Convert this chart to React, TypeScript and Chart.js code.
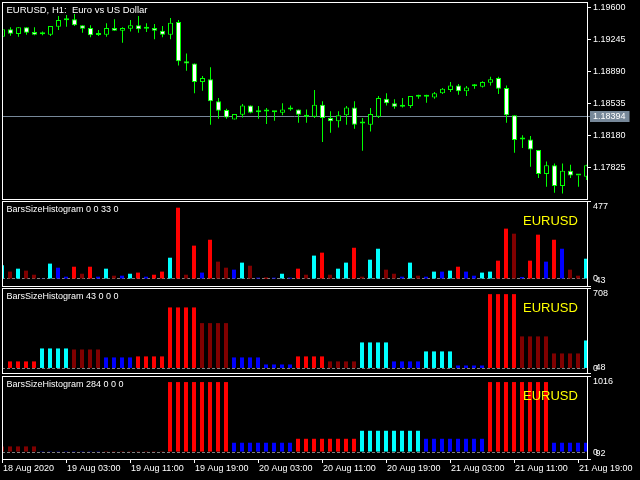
import React, { useEffect, useRef } from "react";
import { Chart, registerables } from "chart.js";

Chart.register(...registerables);

const FONT = '"Liberation Sans", Arial, sans-serif';

const MAIN_TITLE = "EURUSD, H1:  Euro vs US Dollar";
const SYMBOL = "EURUSD";
const HIST_TITLES = ["BarsSizeHistogram 0 0 33 0", "BarsSizeHistogram 43 0 0 0", "BarsSizeHistogram 284 0 0 0"];

const TIME_TICK_BARS = [0, 8, 16, 24, 32, 40, 48, 56, 64, 72];
const TIME_TICK_LABELS = [
  "18 Aug 2020", "19 Aug 03:00", "19 Aug 11:00", "19 Aug 19:00", "20 Aug 03:00",
  "20 Aug 11:00", "20 Aug 19:00", "21 Aug 03:00", "21 Aug 11:00", "21 Aug 19:00",
];

const PRICE_TICKS = [1.17825, 1.1818, 1.18535, 1.1889, 1.19245, 1.196];
const CURRENT_PRICE = 1.18394;
const PRICE_RANGE = [1.17479, 1.19664];
const BAR_RANGE = [0, 73.125];
const CANDLE_RANGE = [-0.0625, 73.0625];

const OPEN = [
  1.19279, 1.19361, 1.19309, 1.19383, 1.19331, 1.19307, 1.19301, 1.1939, 1.19462, 1.19472,
  1.19405, 1.19375, 1.19299, 1.19301, 1.19375, 1.19346, 1.19368, 1.19405, 1.19366, 1.19375,
  1.19346, 1.19301, 1.19442, 1.19006, 1.18983, 1.18776, 1.18806, 1.18562, 1.18466, 1.18362,
  1.18414, 1.18517, 1.18442, 1.18451, 1.18442, 1.18436, 1.18471, 1.18473, 1.18414, 1.18392,
  1.18525, 1.18377, 1.1834, 1.18407, 1.18495, 1.18318, 1.18303, 1.18392, 1.18591, 1.1854,
  1.18503, 1.1851, 1.18614, 1.18612, 1.18606, 1.18651, 1.18688, 1.18739, 1.18673, 1.1873,
  1.18725, 1.18769, 1.18821, 1.1871, 1.18407, 1.18138, 1.1814, 1.18022, 1.17756, 1.17852,
  1.17623, 1.17793, 1.17741, 1.17726,
];
const HIGH = [
  1.19361, 1.19383, 1.19383, 1.19383, 1.19383, 1.19338, 1.19398, 1.19509, 1.1952, 1.19531,
  1.19405, 1.19405, 1.19353, 1.19427, 1.19472, 1.19383, 1.19464, 1.19509, 1.19427, 1.1942,
  1.19398, 1.19486, 1.19464, 1.19094, 1.18983, 1.18843, 1.18939, 1.18599, 1.18481, 1.18421,
  1.18532, 1.18517, 1.1851, 1.18488, 1.18451, 1.1854, 1.18517, 1.18473, 1.18473, 1.18688,
  1.18562, 1.18451, 1.18451, 1.1851, 1.18562, 1.18377, 1.18488, 1.18621, 1.18651, 1.18584,
  1.18599, 1.18621, 1.18636, 1.18636, 1.18665, 1.1871, 1.18776, 1.18754, 1.18732, 1.18754,
  1.18784, 1.18836, 1.18836, 1.18739, 1.18407, 1.18185, 1.18177, 1.18022, 1.17896, 1.17874,
  1.17874, 1.17859, 1.17741, 1.17859,
];
const LOW = [
  1.19279, 1.1929, 1.19279, 1.19301, 1.19294, 1.19294, 1.19287, 1.19353, 1.1939, 1.19398,
  1.19324, 1.19272, 1.19287, 1.19279, 1.19346, 1.19213, 1.19338, 1.19324, 1.19331, 1.1925,
  1.19272, 1.1925, 1.18961, 1.18902, 1.18651, 1.1868, 1.18303, 1.1837, 1.1837, 1.18362,
  1.18384, 1.18429, 1.1837, 1.1831, 1.18347, 1.18407, 1.18458, 1.18325, 1.18325, 1.18377,
  1.18111, 1.18214, 1.18273, 1.18303, 1.18259, 1.18015, 1.18229, 1.18377, 1.18517, 1.18481,
  1.18495, 1.18488, 1.18591, 1.18547, 1.18591, 1.18643, 1.18665, 1.18636, 1.18621, 1.18702,
  1.18717, 1.18739, 1.18643, 1.18325, 1.17992, 1.18044, 1.17837, 1.17711, 1.17615, 1.17549,
  1.17541, 1.17711, 1.17615, 1.17689,
];
const CLOSE = [
  1.19361, 1.19313, 1.19383, 1.19324, 1.19301, 1.19309, 1.19398, 1.19464, 1.19464, 1.19405,
  1.19368, 1.19294, 1.19301, 1.19375, 1.19346, 1.19375, 1.19405, 1.19361, 1.19368, 1.19346,
  1.19301, 1.19435, 1.19006, 1.18983, 1.18776, 1.18821, 1.18562, 1.18458, 1.18384, 1.18421,
  1.18517, 1.18436, 1.18444, 1.18449, 1.18444, 1.18473, 1.18473, 1.18414, 1.18392, 1.18525,
  1.18377, 1.1834, 1.18407, 1.18495, 1.18303, 1.18316, 1.18421, 1.18599, 1.1854, 1.18503,
  1.18517, 1.18621, 1.18612, 1.18614, 1.18651, 1.18702, 1.18739, 1.18673, 1.18717, 1.18732,
  1.18776, 1.18806, 1.18702, 1.18407, 1.18133, 1.1814, 1.18029, 1.17756, 1.17852, 1.17623,
  1.17793, 1.17741, 1.17739, 1.17852,
];

const HIST1_VALUES = [
  84, 45, 63, 51, 26, 2, 94, 69, 14, 75,
  32, 75, 14, 63, 20, 20, 32, 39, 14, 26,
  45, 130, 436, 26, 204, 39, 240, 106, 69, 57,
  100, 81, 8, 8, 8, 32, 8, 63, 26, 143,
  161, 26, 63, 100, 191, 14, 118, 185, 57, 32,
  14, 100, 20, 14, 45, 45, 51, 75, 45, 20,
  39, 45, 112, 308, 277, 12, 112, 271, 106, 240,
  185, 57, 20, 124,
];
const HIST1_KINDS = [
  "C", "D", "C", "D", "D", "B", "C", "B", "B", "R",
  "D", "R", "B", "C", "D", "B", "C", "R", "B", "R",
  "R", "C", "R", "D", "R", "B", "R", "D", "D", "B",
  "C", "D", "B", "R", "B", "C", "B", "R", "D", "C",
  "R", "D", "C", "C", "R", "D", "C", "C", "D", "D",
  "B", "C", "D", "B", "C", "B", "C", "R", "B", "B",
  "C", "C", "R", "R", "D", "B", "R", "R", "B", "R",
  "B", "D", "D", "C",
];

const HIST2_VALUES = [
  0, 62, 62, 62, 62, 176, 176, 176, 176, 167,
  167, 167, 167, 97, 97, 97, 97, 106, 106, 106,
  106, 537, 537, 537, 537, 399, 399, 399, 399, 97,
  97, 97, 97, 35, 35, 35, 35, 106, 106, 106,
  106, 62, 62, 62, 62, 229, 229, 229, 229, 62,
  62, 62, 62, 150, 150, 150, 150, 26, 26, 26,
  26, 654, 654, 654, 654, 282, 282, 282, 282, 132,
  132, 132, 132, 246,
];
const HIST2_KINDS = [
  "B", "R", "R", "R", "R", "C", "C", "C", "C", "D",
  "D", "D", "D", "B", "B", "B", "B", "R", "R", "R",
  "R", "R", "R", "R", "R", "D", "D", "D", "D", "B",
  "B", "B", "B", "B", "B", "B", "B", "R", "R", "R",
  "R", "D", "D", "D", "D", "C", "C", "C", "C", "B",
  "B", "B", "B", "C", "C", "C", "C", "B", "B", "B",
  "B", "R", "R", "R", "R", "D", "D", "D", "D", "D",
  "D", "D", "D", "C",
];

const HIST3_VALUES = [
  76, 76, 76, 76, 76, 10, 10, 10, 10, 10,
  10, 10, 10, 12, 12, 12, 12, 12, 12, 12,
  12, 935, 935, 935, 935, 935, 935, 935, 935, 125,
  125, 125, 125, 125, 125, 125, 125, 178, 178, 178,
  178, 178, 178, 178, 178, 285, 285, 285, 285, 285,
  285, 285, 285, 178, 178, 178, 178, 178, 178, 178,
  178, 935, 935, 935, 935, 935, 935, 935, 935, 125,
  125, 125, 125, 125,
];
const HIST3_KINDS = [
  "D", "D", "D", "D", "D", "B", "B", "B", "B", "B",
  "B", "B", "B", "D", "D", "D", "D", "D", "D", "D",
  "D", "R", "R", "R", "R", "R", "R", "R", "R", "B",
  "B", "B", "B", "B", "B", "B", "B", "R", "R", "R",
  "R", "R", "R", "R", "R", "C", "C", "C", "C", "C",
  "C", "C", "C", "B", "B", "B", "B", "B", "B", "B",
  "B", "R", "R", "R", "R", "R", "R", "R", "R", "B",
  "B", "B", "B", "B",
];

const HIST_RANGES = [[-43, 477], [-40, 708], [-92, 1016]];
const HIST_MAX_LABELS = ["477", "708", "1016"];
const HIST_MIN_LABELS = ["43", "48", "92"];

const KIND_COLORS: Record<string, string> = {
  R: "#ff0000",
  D: "#800000",
  C: "#00ffff",
  B: "#0000ff",
};

const TRANSPARENT = "rgba(0,0,0,0)";

function panelPlugin(title: string, showSymbol: boolean, titleSize: number) {
  return {
    id: "panelDecor",
    afterDraw(chart: any) {
      const { ctx, chartArea: a } = chart;
      ctx.save();
      ctx.strokeStyle = "#ffffff";
      ctx.lineWidth = 1;
      ctx.strokeRect(a.left + 0.5, a.top + 0.5, a.right - a.left, a.bottom - a.top);
      ctx.font = `${titleSize}px ${FONT}`;
      ctx.fillStyle = "#ffffff";
      ctx.textBaseline = "middle";
      ctx.textAlign = "left";
      ctx.fillText(title, a.left + 4.5, a.top + 8.5);
      if (showSymbol) {
        ctx.font = `13px ${FONT}`;
        ctx.fillStyle = "#ffff00";
        ctx.fillText(SYMBOL, a.right - 64, a.top + 20);
      }
      ctx.restore();
    },
  };
}

const yAfterFit = (s: any) => {
  s.width = 53;
  s.paddingTop = 0;
  s.paddingBottom = 0;
};

const tickFont = { family: FONT, size: 9 };

function mainConfig(): any {
  const wicks = OPEN.map((_, i) => ({ x: i, y: [LOW[i], HIGH[i]] }));
  const bodies = OPEN.map((o, i) => ({ x: i, y: [o, CLOSE[i]] }));
  const yTicks = [...PRICE_TICKS, CURRENT_PRICE].sort((a, b) => a - b);
  return {
    type: "bar",
    data: {
      datasets: [
        {
          data: wicks,
          backgroundColor: "#00ff00",
          borderWidth: 0,
          barThickness: 1,
          grouped: false,
          inflateAmount: 0,
          order: 2,
          clip: 0,
        },
        {
          data: bodies,
          backgroundColor: OPEN.map((o, i) => (CLOSE[i] < o ? "#ffffff" : "#000000")),
          borderColor: "#00ff00",
          borderWidth: 1,
          borderSkipped: false,
          barThickness: 5,
          minBarLength: 2,
          grouped: false,
          inflateAmount: 0,
          order: 1,
          clip: 0,
        },
      ],
    },
    options: {
      responsive: false,
      animation: false,
      devicePixelRatio: 1,
      events: [],
      plugins: { legend: { display: false }, tooltip: { enabled: false } },
      layout: { padding: { left: 2, top: 2, right: 0, bottom: 2 } },
      scales: {
        x: {
          type: "linear",
          min: CANDLE_RANGE[0],
          max: CANDLE_RANGE[1],
          offset: false,
          grid: { offset: false },
          display: false,
        },
        y: {
          type: "linear",
          position: "right",
          min: PRICE_RANGE[0],
          max: PRICE_RANGE[1],
          afterFit: yAfterFit,
          afterBuildTicks: (s: any) => {
            s.ticks = yTicks.map((v) => ({ value: v }));
          },
          grid: {
            drawOnChartArea: true,
            color: (c: any) => (c.tick && c.tick.value === CURRENT_PRICE ? "#778899" : TRANSPARENT),
            tickColor: (c: any) => (c.tick && c.tick.value === CURRENT_PRICE ? "#778899" : "#ffffff"),
            tickLength: 4,
            lineWidth: 1,
          },
          border: { display: false },
          ticks: {
            autoSkip: false,
            padding: 2,
            color: "#ffffff",
            font: tickFont,
            callback: (v: number) => v.toFixed(5),
            showLabelBackdrop: (c: any) => !!(c.tick && c.tick.value === CURRENT_PRICE),
            backdropColor: "#778899",
            backdropPadding: { top: 0.1, bottom: 0.1, left: 3, right: 4 },
          },
        },
      },
    },
    plugins: [panelPlugin(MAIN_TITLE, false, 9.5)],
  };
}

function histConfig(k: number, values: number[], kinds: string[], showTime: boolean): any {
  const [yMin, yMax] = HIST_RANGES[k];
  return {
    type: "bar",
    data: {
      datasets: [
        {
          data: values.map((v, i) => ({ x: i, y: v })),
          backgroundColor: kinds.map((c) => KIND_COLORS[c]),
          borderWidth: 0,
          barThickness: 4,
          inflateAmount: 0,
          clip: 0,
        },
      ],
    },
    options: {
      responsive: false,
      animation: false,
      devicePixelRatio: 1,
      events: [],
      plugins: { legend: { display: false }, tooltip: { enabled: false } },
      layout: { padding: { left: 2, top: 1, right: 0, bottom: showTime ? 0 : 2 } },
      scales: {
        x: {
          type: "linear",
          min: BAR_RANGE[0],
          max: BAR_RANGE[1],
          offset: false,
          display: showTime,
          afterBuildTicks: (s: any) => {
            s.ticks = TIME_TICK_BARS.map((v) => ({ value: v }));
          },
          afterFit: (s: any) => {
            if (showTime) s.height = 21;
            s.paddingLeft = 0;
            s.paddingRight = 0;
          },
          grid: { offset: false, drawOnChartArea: false, tickLength: 4, tickColor: "#ffffff" },
          border: { display: false },
          ticks: {
            autoSkip: false,
            maxRotation: 0,
            minRotation: 0,
            align: "start",
            labelOffset: 1,
            padding: 0,
            color: "#ffffff",
            font: tickFont,
            callback: (v: number) => TIME_TICK_LABELS[TIME_TICK_BARS.indexOf(v)],
          },
        },
        y: {
          type: "linear",
          position: "right",
          min: yMin,
          max: yMax,
          afterFit: yAfterFit,
          afterBuildTicks: (s: any) => {
            s.ticks = [yMin, 0, yMax].map((v) => ({ value: v }));
          },
          grid: {
            drawOnChartArea: true,
            color: (c: any) => (c.tick && c.tick.value === 0 ? "#808080" : TRANSPARENT),
            tickColor: (c: any) => (c.tick && c.tick.value === 0 ? TRANSPARENT : "#ffffff"),
            tickLength: 4,
            lineWidth: 1,
          },
          border: { display: false, dash: [3, 2] },
          ticks: {
            autoSkip: false,
            padding: 2,
            color: "#ffffff",
            font: tickFont,
            callback: (v: number) => {
              if (v === yMax) return ["", HIST_MAX_LABELS[k]];
              if (v === yMin) return [" " + HIST_MIN_LABELS[k], ""];
              return "0";
            },
          },
        },
      },
    },
    plugins: [panelPlugin(HIST_TITLES[k], true, 9)],
  };
}

function ChartCanvas({ top, height, build }: { top: number; height: number; build: () => any }) {
  const ref = useRef<HTMLCanvasElement | null>(null);
  useEffect(() => {
    const chart = new Chart(ref.current as HTMLCanvasElement, build());
    return () => chart.destroy();
  }, []);
  return (
    <canvas
      ref={ref}
      width={640}
      height={height}
      style={{ position: "absolute", left: 0, top, width: 640, height, display: "block" }}
    />
  );
}

export default function App() {
  return (
    <div
      style={{
        position: "fixed",
        left: 0,
        top: 0,
        width: 640,
        height: 480,
        background: "#000000",
        overflow: "hidden",
      }}
    >
      <ChartCanvas top={0} height={201} build={mainConfig} />
      <ChartCanvas top={200} height={88} build={() => histConfig(0, HIST1_VALUES, HIST1_KINDS, false)} />
      <ChartCanvas top={287} height={88} build={() => histConfig(1, HIST2_VALUES, HIST2_KINDS, false)} />
      <ChartCanvas top={375} height={105} build={() => histConfig(2, HIST3_VALUES, HIST3_KINDS, true)} />
    </div>
  );
}
